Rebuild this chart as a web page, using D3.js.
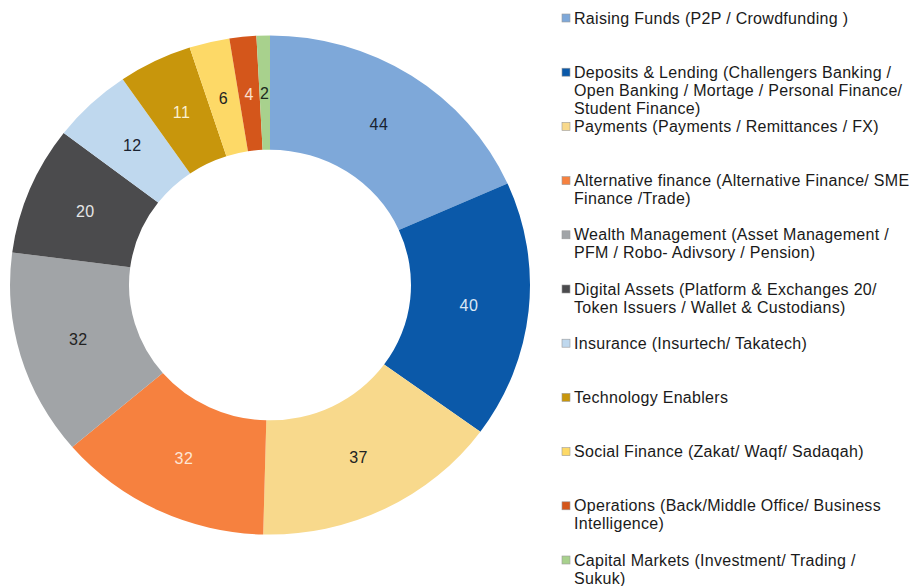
<!DOCTYPE html>
<html>
<head>
<meta charset="utf-8">
<script src="https://cdn.jsdelivr.net/npm/d3@7"></script>
<style>
  html, body { margin: 0; padding: 0; background: #fff; }
  svg { display: block; font-family: "Liberation Sans", Arial, sans-serif; }
</style>
</head>
<body>
<svg id="chart" width="909" height="586"></svg>
<script>
// Fintech segments, clockwise from 12 o'clock
const categories = [
  ["Raising Funds (P2P / Crowdfunding )"],
  ["Deposits & Lending (Challengers Banking /", "Open Banking / Mortage / Personal Finance/", "Student Finance)"],
  ["Payments (Payments / Remittances / FX)"],
  ["Alternative finance (Alternative Finance/ SME", "Finance /Trade)"],
  ["Wealth Management (Asset Management /", "PFM / Robo- Adivsory / Pension)"],
  ["Digital Assets (Platform & Exchanges 20/", "Token  Issuers / Wallet & Custodians)"],
  ["Insurance (Insurtech/ Takatech)"],
  ["Technology Enablers"],
  ["Social Finance (Zakat/ Waqf/ Sadaqah)"],
  ["Operations (Back/Middle Office/ Business", "Intelligence)"],
  ["Capital Markets (Investment/ Trading /", "Sukuk)"]
];
const values = [44, 40, 37, 32, 32, 20, 12, 11, 6, 4, 2];
const colors = ["#7ea8d9", "#0b59a9", "#f8d98c", "#f6813f", "#a1a4a7", "#4b4b4d",
                "#bfd8ee", "#c8960c", "#fdd967", "#d4561b", "#a8d18d"];
const labelColors = ["#1a2230", "#dce8f5", "#222222", "#fde6d6", "#222222", "#e6e6e6",
                     "#1a2230", "#fbf0d0", "#222222", "#fbe0d0", "#1d2a1d"];

const svg = d3.select("#chart");
const cx = 270, cy = 285, outerR = 260, innerR = 141, squash = 0.96;

const pie = d3.pie().sort(null).value(d => d)(values);
const arc = d3.arc().innerRadius(innerR).outerRadius(outerR);
const labelArc = d3.arc().innerRadius(200).outerRadius(200);

// Ring
svg.append("g")
  .attr("transform", `translate(${cx},${cy}) scale(1,${squash})`)
  .selectAll("path")
  .data(pie)
  .join("path")
  .attr("d", arc)
  .attr("fill", (d, i) => colors[i]);

// Value labels
svg.append("g")
  .selectAll("text")
  .data(pie)
  .join("text")
  .attr("x", d => cx + labelArc.centroid(d)[0])
  .attr("y", d => cy + labelArc.centroid(d)[1] * squash)
  .attr("dy", "0.35em")
  .attr("text-anchor", "middle")
  .attr("font-size", 16)
  .attr("letter-spacing", 0.4)
  .attr("fill", (d, i) => labelColors[i])
  .text(d => d.data);

// Legend
const legendY = d3.scalePoint().domain(d3.range(categories.length)).range([18, 560]);
const lg = svg.append("g")
  .selectAll("g")
  .data(categories)
  .join("g")
  .attr("transform", (d, i) => `translate(562,${legendY(i)})`);

lg.append("rect")
  .attr("x", 0).attr("y", -4)
  .attr("width", 8).attr("height", 8)
  .attr("fill", (d, i) => colors[i])
  .attr("stroke", "#9a9a9a").attr("stroke-width", 0.6);

lg.append("text")
  .attr("x", 12)
  .attr("font-size", 16)
  .attr("letter-spacing", 0.3)
  .attr("fill", "#1a1a1a")
  .selectAll("tspan")
  .data(d => d)
  .join("tspan")
  .attr("x", 12)
  .attr("y", (d, j) => j * 18)
  .attr("dy", "0.35em")
  .text(d => d);
</script>
</body>
</html>
